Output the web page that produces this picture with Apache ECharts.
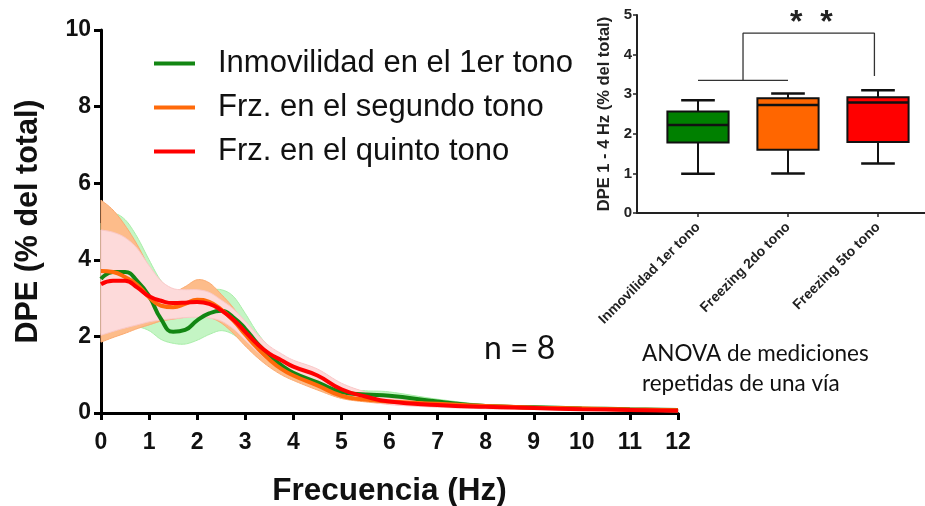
<!DOCTYPE html>
<html>
<head>
<meta charset="utf-8">
<script src="https://cdn.jsdelivr.net/npm/echarts@6/dist/echarts.min.js"></script>
<style>html,body{margin:0;padding:0;background:#fff}#c{width:925px;height:506px}</style>
</head>
<body>
<div id="c"></div>
<script>
// ---------- main chart data ----------
var freq = [0,0.25,0.5,0.75,1,1.25,1.5,1.75,2,2.25,2.5,2.75,3,3.25,3.5,3.75,4,4.5,5,5.5,6,7,8,9,10,11,12];
var seriesNames = ['Inmovilidad en el 1er tono','Frz. en el segundo tono','Frz. en el quinto tono'];
var greenMean = [3.5,3.68,3.68,3.45,3.05,2.45,2.12,2.17,2.42,2.6,2.67,2.5,2.2,1.82,1.5,1.25,1.05,0.8,0.55,0.48,0.45,0.3,0.18,0.15,0.12,0.1,0.08];
var greenUpper = [4.96,5.2,5.05,4.6,4.0,3.45,3.2,3.15,3.15,3.2,3.22,3.05,2.6,2.1,1.72,1.45,1.22,0.95,0.65,0.58,0.55,0.36,0.22,0.18,0.15,0.12,0.1];
var greenLower = [2.07,2.15,2.22,2.25,2.15,1.92,1.82,1.8,1.9,2.05,2.15,2.05,1.8,1.5,1.25,1.05,0.88,0.65,0.45,0.4,0.36,0.24,0.14,0.12,0.09,0.08,0.06];
var orangeMean = [3.71,3.68,3.55,3.35,3.02,2.8,2.76,2.85,2.96,2.9,2.7,2.42,2.05,1.7,1.4,1.15,0.98,0.72,0.45,0.35,0.3,0.24,0.18,0.14,0.12,0.09,0.07];
var orangeUpper = [5.56,5.3,4.9,4.4,3.8,3.2,3.15,3.3,3.48,3.4,3.1,2.75,2.3,1.9,1.55,1.3,1.1,0.82,0.52,0.42,0.36,0.3,0.22,0.18,0.15,0.12,0.1];
var orangeLower = [1.85,1.97,2.08,2.2,2.3,2.4,2.45,2.5,2.54,2.5,2.35,2.08,1.75,1.45,1.2,1.0,0.85,0.6,0.38,0.29,0.24,0.18,0.14,0.1,0.09,0.06,0.04];
var redMean = [3.36,3.45,3.45,3.28,3.05,2.93,2.87,2.88,2.9,2.85,2.68,2.44,2.12,1.8,1.55,1.38,1.21,0.98,0.62,0.43,0.3,0.21,0.16,0.13,0.1,0.08,0.06];
var redUpper = [4.78,4.72,4.58,4.3,3.85,3.45,3.25,3.22,3.22,3.15,2.95,2.72,2.4,2.05,1.75,1.55,1.38,1.15,0.78,0.55,0.4,0.28,0.22,0.18,0.14,0.12,0.1];
var redLower = [2.03,2.13,2.22,2.3,2.38,2.43,2.46,2.49,2.5,2.48,2.4,2.2,1.9,1.6,1.35,1.2,1.05,0.82,0.5,0.33,0.22,0.15,0.11,0.09,0.07,0.05,0.03];
var xTicks = [0,1,2,3,4,5,6,7,8,9,10,11,12];
var yTicks = [0,2,4,6,8,10];

// ---------- inset box plot data ----------
var boxCategories = ['Inmovilidad 1er tono','Freezing 2do tono','Freezing 5to tono'];
var boxMin = [0.99, 1.0, 1.25];
var boxQ1 = [1.78, 1.6, 1.79];
var boxMedian = [2.22, 2.73, 2.79];
var boxQ3 = [2.56, 2.9, 2.92];
var boxMax = [2.85, 3.02, 3.1];
var bracketX = [0, 1, null, 0.5, 0.5, 1.96, 1.96];
var bracketY = [3.35, 3.35, null, 3.35, 4.54, 4.54, 3.46];

// ---------- styles ----------
var lineColors = ['#138613', '#FF6A0A', '#FF0000'];
var bandColors = ['#C4F5C4', '#FDBC8A', '#FDDADA'];
var bandEdge = ['#A8EDA8', '#FBAA70', '#FAC8C8'];
var boxColors = ['#008000', '#FF6600', '#FF0000'];
var FONT = 'Liberation Sans';

function pairs(xs, ys) { return xs.map(function (x, i) { return [x, ys[i]]; }); }

// Catmull-Rom sampling of pixel points
function sampleCR(pts, steps) {
  var out = [];
  var n = pts.length;
  for (var i = 0; i < n - 1; i++) {
    var p0 = pts[i - 1] || pts[i], p1 = pts[i], p2 = pts[i + 1], p3 = pts[i + 2] || pts[i + 1];
    var c1 = [p1[0] + (p2[0] - p0[0]) / 6, p1[1] + (p2[1] - p0[1]) / 6];
    var c2 = [p2[0] - (p3[0] - p1[0]) / 6, p2[1] - (p3[1] - p1[1]) / 6];
    for (var s = 0; s < steps; s++) {
      var t = s / steps, u = 1 - t;
      out.push([
        u * u * u * p1[0] + 3 * u * u * t * c1[0] + 3 * u * t * t * c2[0] + t * t * t * p2[0],
        u * u * u * p1[1] + 3 * u * u * t * c1[1] + 3 * u * t * t * c2[1] + t * t * t * p2[1]
      ]);
    }
  }
  out.push(pts[n - 1]);
  return out;
}

function bandSeries(lower, upper, k) {
  return {
    type: 'custom', xAxisIndex: 0, yAxisIndex: 0, silent: true, z: 1 + k,
    data: freq.map(function (f, i) { return [f, lower[i], upper[i]]; }),
    renderItem: function (params, api) {
      if (params.dataIndex !== 0) return null;
      var up = freq.map(function (f, i) { return api.coord([f, upper[i]]); });
      var lo = freq.map(function (f, i) { return api.coord([f, lower[i]]); });
      var upS = sampleCR(up, 8);
      var loS = sampleCR(lo, 8).reverse();
      return {
        type: 'group', children: [
          { type: 'polygon', shape: { points: upS.concat(loS) }, style: { fill: bandColors[k], stroke: bandEdge[k], lineWidth: 1 } }
        ]
      };
    }
  };
}

var series = [];
series.push(bandSeries(greenLower, greenUpper, 0));
series.push(bandSeries(orangeLower, orangeUpper, 1));
series.push(bandSeries(redLower, redUpper, 2));
[greenMean, orangeMean, redMean].forEach(function (m, k) {
  series.push({
    name: seriesNames[k], type: 'line', xAxisIndex: 0, yAxisIndex: 0, smooth: 0.5,
    data: pairs(freq, m), symbol: 'none',
    lineStyle: { color: lineColors[k], width: 4 }, itemStyle: { color: lineColors[k] }, z: 10 + k
  });
});

// box plot (custom) in grid 2
var boxData = boxCategories.map(function (c, i) { return [i, boxMin[i], boxQ1[i], boxMedian[i], boxQ3[i], boxMax[i]]; });
series.push({
  type: 'custom', xAxisIndex: 2, yAxisIndex: 2, data: boxData, z: 20,
  renderItem: function (params, api) {
    var i = api.value(0);
    var pMin = api.coord([i, api.value(1)]);
    var pQ1 = api.coord([i, api.value(2)]);
    var pMed = api.coord([i, api.value(3)]);
    var pQ3 = api.coord([i, api.value(4)]);
    var pMax = api.coord([i, api.value(5)]);
    var bw = api.size([1, 0])[0] * 0.68;
    var cw = bw * 0.55;
    var cx = pMed[0];
    var st = { stroke: '#111', lineWidth: 2 };
    return {
      type: 'group', children: [
        { type: 'line', shape: { x1: cx, y1: pMax[1], x2: cx, y2: pQ3[1] }, style: st },
        { type: 'line', shape: { x1: cx, y1: pQ1[1], x2: cx, y2: pMin[1] }, style: st },
        { type: 'line', shape: { x1: cx - cw / 2, y1: pMax[1], x2: cx + cw / 2, y2: pMax[1] }, style: { stroke: '#111', lineWidth: 2.5 } },
        { type: 'line', shape: { x1: cx - cw / 2, y1: pMin[1], x2: cx + cw / 2, y2: pMin[1] }, style: { stroke: '#111', lineWidth: 2.5 } },
        { type: 'rect', shape: { x: cx - bw / 2, y: pQ3[1], width: bw, height: pQ1[1] - pQ3[1] }, style: { fill: boxColors[params.dataIndex], stroke: '#111', lineWidth: 2 } },
        { type: 'line', shape: { x1: cx - bw / 2, y1: pMed[1], x2: cx + bw / 2, y2: pMed[1] }, style: { stroke: '#111', lineWidth: 2.5 } }
      ]
    };
  }
});
// significance bracket in grid 1 (value axis aligned to category indices)
series.push({
  type: 'line', xAxisIndex: 1, yAxisIndex: 1, data: pairs(bracketX, bracketY), symbol: 'none', silent: true,
  connectNulls: false, lineStyle: { color: '#333', width: 1.3 }, z: 19
});

var option = {
  animation: false,
  textStyle: { fontFamily: FONT },
  legend: {
    data: seriesNames, orient: 'vertical', left: 149, top: 43, itemGap: 13,
    icon: 'rect', itemWidth: 41, itemHeight: 4,
    textStyle: { fontFamily: FONT, fontSize: 31, color: '#111', padding: [0, 0, 0, 18] }
  },
  grid: [
    { left: 101, right: 247, top: 30, bottom: 93, containLabel: false, outerBoundsMode: 'none' },
    { left: 637, right: 0, top: 15, height: 198, containLabel: false, outerBoundsMode: 'none' },
    { left: 653, width: 270, top: 15, height: 198, containLabel: false, outerBoundsMode: 'none' }
  ],
  xAxis: [
    {
      type: 'value', gridIndex: 0, min: 0, max: 12, interval: 1,
      name: 'Frecuencia (Hz)', nameLocation: 'middle', nameGap: 62,
      nameTextStyle: { fontFamily: FONT, fontWeight: 'bold', fontSize: 31.5, color: '#111' },
      axisLine: { lineStyle: { color: '#000', width: 3 } },
      axisTick: { length: 7, lineStyle: { color: '#000', width: 3 } },
      axisLabel: { fontFamily: FONT, fontWeight: 'bold', fontSize: 23, color: '#111', margin: 18,
        formatter: function (v) { return xTicks.indexOf(v) >= 0 ? String(v) : ''; } },
      splitLine: { show: false }
    },
    {
      type: 'value', gridIndex: 1, min: -0.678, max: 2.522,
      axisLine: { show: true, onZero: false, lineStyle: { color: '#222', width: 2 } },
      axisTick: { show: false }, axisLabel: { show: false }, splitLine: { show: false }
    },
    {
      type: 'category', gridIndex: 2, data: boxCategories,
      axisLine: { show: false },
      axisTick: { show: true, alignWithLabel: true, length: 4, lineStyle: { color: '#222', width: 1.5 } },
      axisLabel: { rotate: 45, fontFamily: FONT, fontWeight: 'bold', fontSize: 14, color: '#222', margin: 12 },
      splitLine: { show: false }
    }
  ],
  yAxis: [
    {
      type: 'value', gridIndex: 0, min: 0, max: 10, interval: 2,
      name: 'DPE (% del total)', nameLocation: 'middle', nameGap: 57, nameRotate: 90,
      nameTextStyle: { fontFamily: FONT, fontWeight: 'bold', fontSize: 30.5, color: '#111' },
      axisLine: { show: true, lineStyle: { color: '#000', width: 3 } },
      axisTick: { show: true, length: 7, lineStyle: { color: '#000', width: 3 } },
      axisLabel: { fontFamily: FONT, fontWeight: 'bold', fontSize: 23, color: '#111', margin: 10,
        formatter: function (v) { return yTicks.indexOf(v) >= 0 ? String(v) : ''; } },
      splitLine: { show: false }
    },
    {
      type: 'value', gridIndex: 1, min: 0, max: 5, interval: 1,
      name: 'DPE 1 - 4 Hz (% del total)', nameLocation: 'middle', nameGap: 24, nameRotate: 90,
      nameTextStyle: { fontFamily: FONT, fontWeight: 'bold', fontSize: 16.5, color: '#222' },
      axisLine: { show: true, onZero: false, lineStyle: { color: '#222', width: 2 } },
      axisTick: { show: true, length: 4, lineStyle: { color: '#222', width: 1.5 } },
      axisLabel: { fontFamily: FONT, fontWeight: 'bold', fontSize: 15, color: '#222', margin: 5 },
      splitLine: { show: false }
    },
    {
      type: 'value', gridIndex: 2, min: 0, max: 5, show: false
    }
  ],
  graphic: [
    { type: 'text', left: 484, top: 333, z: 50, style: { text: 'n = 8', font: '32px Lato', fill: '#111' } },
    { type: 'text', left: 642, top: 339, z: 50, style: { text: 'ANOVA de mediciones\nrepetidas de una vía', font: '22.5px Lato', fill: '#111', lineHeight: 30 } },
    { type: 'text', left: 790, top: 7, z: 50, style: { text: '*  *', font: 'bold 32px "Liberation Sans"', fill: '#222' } }
  ],
  series: series
};
var chart = echarts.init(document.getElementById('c'), null, { renderer: 'canvas' });
chart.setOption(option);
</script>
</body>
</html>
